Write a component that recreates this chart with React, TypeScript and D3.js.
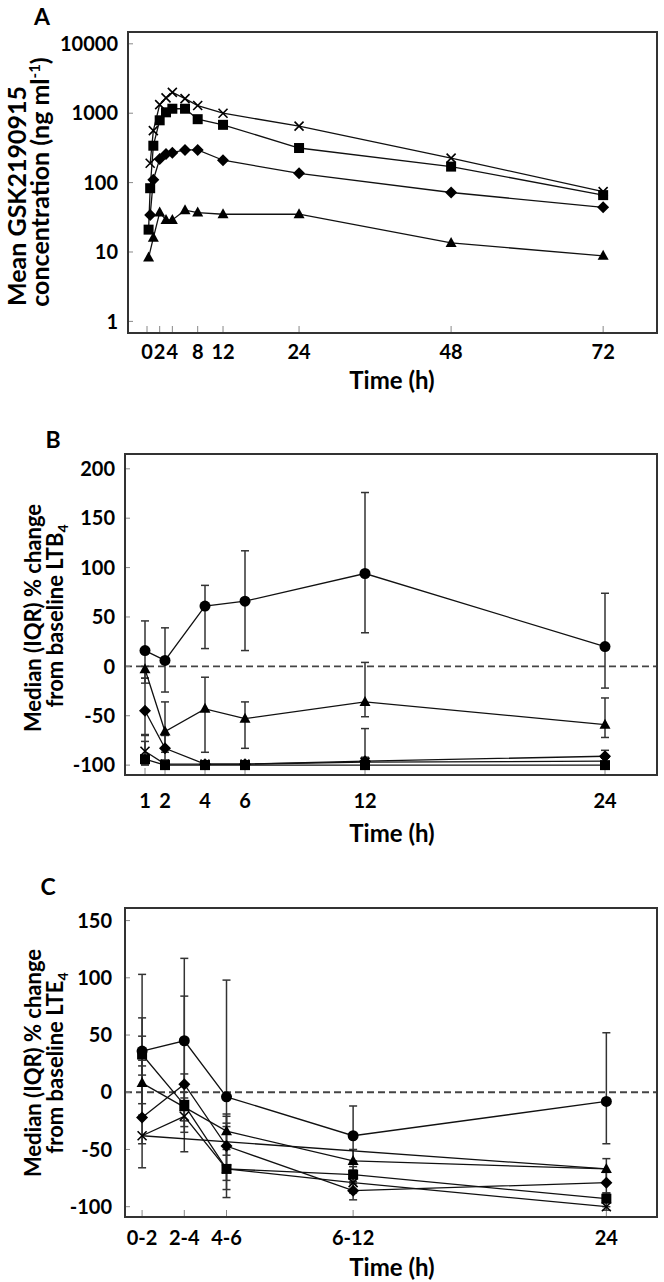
import React from 'react';
import * as d3 from 'd3';

const FONT = 'Lato, "DejaVu Sans", sans-serif';

// ---------- Panel A data ----------
const A_X_TICKS = [0, 2, 4, 8, 12, 24, 48, 72];
const A_Y_TICKS = [1, 10, 100, 1000, 10000];
const A_CROSS_T = [0.5, 1, 2, 3, 4, 6, 8, 12, 24, 48, 72];
const A_CROSS_V = [190, 560, 1330, 1660, 2000, 1620, 1290, 1000, 650, 225, 74];
const A_SQ_T = [0.25, 0.5, 1, 2, 3, 4, 6, 8, 12, 24, 48, 72];
const A_SQ_V = [21, 83, 340, 790, 1030, 1160, 1160, 820, 680, 315, 170, 66];
const A_DIA_T = [0.5, 1, 2, 3, 4, 6, 8, 12, 24, 48, 72];
const A_DIA_V = [34, 110, 218, 258, 270, 296, 296, 210, 136, 72, 44];
const A_TRI_T = [0.25, 1, 2, 3, 4, 6, 8, 12, 24, 48, 72];
const A_TRI_V = [8.3, 16, 37, 29, 29, 40, 37, 35, 35, 13.5, 8.8];

// ---------- Panel B data ----------
const B_X_TICKS = [1, 2, 4, 6, 12, 24];
const B_Y_TICKS = [-100, -50, 0, 50, 100, 150, 200];
const B_T = [1, 2, 4, 6, 12, 24];
const B_CIRCLE = [16, 6, 61, 66, 94, 20];
const B_CIRCLE_LO = [-12, -26, 18, 16, 34, -22];
const B_CIRCLE_HI = [46, 39, 82, 117, 176, 74];
const B_TRI = [-3, -66, -43, -53, -36, -59];
const B_TRI_LO = [-17, -87, -87, -83, -51, -72];
const B_TRI_HI = [0, -36, -11, -36, 4, -32];
const B_DIA = [-45, -83, -99, -99, -96, -91];
const B_DIA_LO = [-70, -95, -100, -100, -100, -97];
const B_DIA_HI = [-12, -70, -96, -96, -63, -85];
const B_SQ = [-94, -100, -100, -100, -100, -100];
const B_SQ_LO = [-100, -100, -100, -100, -100, -100];
const B_SQ_HI = [-76, -98, -98, -98, -98, -98];
const B_CROSS = [-86, -99, -99, -99, -97, -96];
const B_CROSS_LO = [-99, -100, -100, -100, -100, -100];
const B_CROSS_HI = [-69, -95, -97, -97, -92, -93];

// ---------- Panel C data ----------
const C_X_TICKS = [2, 4, 6, 12, 24];
const C_X_LABELS = ['0-2', '2-4', '4-6', '6-12', '24'];
const C_Y_TICKS = [-100, -50, 0, 50, 100, 150];
const C_T = [2, 4, 6, 12, 24];
const C_CIRCLE = [36, 45, -4, -38, -8];
const C_CIRCLE_LO = [-10, 5, -30, -60, -45];
const C_CIRCLE_HI = [103, 117, 98, -12, 52];
const C_SQ = [33, -11, -67, -72, -93];
const C_SQ_LO = [15, -35, -92, -80, -100];
const C_SQ_HI = [65, 16, -50, -65, -88];
const C_TRI = [8, -13, -34, -60, -67];
const C_TRI_LO = [-20, -30, -55, -68, -78];
const C_TRI_HI = [49, 0, -19, -50, -58];
const C_DIA = [-22, 7, -47, -86, -79];
const C_DIA_LO = [-45, -25, -77, -94, -88];
const C_DIA_HI = [23, 84, -27, -78, -70];
const C_CROSS = [-38, -21, -67, -79, -100];
const C_CROSS_LO = [-66, -52, -85, -88, -103];
const C_CROSS_HI = [28, -5, -21, -70, -95];
const C_EXTRA_T = [2, 24];
const C_EXTRA_V = [-38, -67];

type Shape = 'circle' | 'square' | 'triangle' | 'diamond' | 'cross' | 'none';
interface Series {
  t: number[];
  v: number[];
  lo?: number[];
  hi?: number[];
  shape: Shape;
}

function Marker({ shape, x, y }: { shape: Shape; x: number; y: number }) {
  if (shape === 'circle') return <circle cx={x} cy={y} r={5.5} fill="#000" />;
  if (shape === 'square') return <rect x={x - 5} y={y - 5} width={10} height={10} fill="#000" />;
  if (shape === 'triangle')
    return <path d={`M${x},${y - 6}L${x + 5.5},${y + 4}L${x - 5.5},${y + 4}Z`} fill="#000" />;
  if (shape === 'diamond')
    return <path d={`M${x},${y - 6}L${x + 6},${y}L${x},${y + 6}L${x - 6},${y}Z`} fill="#000" />;
  if (shape === 'cross')
    return (
      <path d={`M${x - 4.5},${y - 4.5}L${x + 4.5},${y + 4.5}M${x - 4.5},${y + 4.5}L${x + 4.5},${y - 4.5}`} stroke="#000" strokeWidth={1.6} />
    );
  return null;
}

interface PanelProps {
  left: number; right: number; top: number; bottom: number;
  x: d3.ScaleLinear<number, number>;
  y: (v: number) => number;
  xTicks: number[]; xLabels: string[];
  yTicks: number[]; yLabels: string[];
  yLabelX: number;
  series: Series[];
  zeroLine?: boolean;
  xLabelY: number;
}

function Panel(p: PanelProps) {
  const line = d3.line<[number, number]>().x(d => p.x(d[0])).y(d => p.y(d[1]));
  return (
    <g>
      {p.zeroLine && (
        <line x1={p.left} x2={p.right} y1={p.y(0)} y2={p.y(0)} stroke="#444" strokeWidth={1.8} strokeDasharray="7,4" />
      )}
      {p.yTicks.map((t, i) => (
        <g key={'yt' + i}>
          <line x1={p.left} x2={p.left + 5} y1={p.y(t)} y2={p.y(t)} stroke="#888" strokeWidth={1} />
          <text x={p.yLabelX} y={p.y(t)} dy="0.36em" textAnchor="end" fontFamily={FONT} fontWeight="bold" fontSize={20}>
            {p.yLabels[i]}
          </text>
        </g>
      ))}
      {p.xTicks.map((t, i) => (
        <g key={'xt' + i}>
          <line x1={p.x(t)} x2={p.x(t)} y1={p.bottom} y2={p.bottom - 7} stroke="#888" strokeWidth={1} />
          <text x={p.x(t)} y={p.xLabelY} textAnchor="middle" fontFamily={FONT} fontWeight="bold" fontSize={20}>
            {p.xLabels[i]}
          </text>
        </g>
      ))}
      {p.series.map((s, si) => (
        <g key={'eb' + si}>
          {s.lo && s.hi && s.t.map((t, i) => (
            <g key={i}>
              <line x1={p.x(t)} x2={p.x(t)} y1={p.y(s.lo![i])} y2={p.y(s.hi![i])} stroke="#333" strokeWidth={1.5} />
              <line x1={p.x(t) - 4} x2={p.x(t) + 4} y1={p.y(s.lo![i])} y2={p.y(s.lo![i])} stroke="#333" strokeWidth={1.5} />
              <line x1={p.x(t) - 4} x2={p.x(t) + 4} y1={p.y(s.hi![i])} y2={p.y(s.hi![i])} stroke="#333" strokeWidth={1.5} />
            </g>
          ))}
        </g>
      ))}
      {p.series.map((s, si) => (
        <path key={'ln' + si} d={line(s.t.map((t, i) => [t, s.v[i]] as [number, number])) || ''} fill="none" stroke="#111" strokeWidth={1.3} />
      ))}
      {p.series.map((s, si) => (
        <g key={'mk' + si}>
          {s.t.map((t, i) => <Marker key={i} shape={s.shape} x={p.x(t)} y={p.y(s.v[i])} />)}
        </g>
      ))}
      <rect x={p.left} y={p.top} width={p.right - p.left} height={p.bottom - p.top} fill="none" stroke="#333" strokeWidth={2} />
    </g>
  );
}

export default function App() {
  const axA = d3.scaleLinear().domain([-3, 80.5]).range([128, 657]);
  const ayA = d3.scaleLog().domain([0.68, 14800]).range([333, 32]);
  const axB = d3.scaleLinear().domain([0, 26.6]).range([125, 657]);
  const ayB = d3.scaleLinear().domain([-110, 215]).range([775, 454]);
  const axC = d3.scaleLinear().domain([1.19, 26.4]).range([125, 657]);
  const ayC = d3.scaleLinear().domain([-109, 161]).range([1217, 908]);

  const seriesA: Series[] = [
    { t: A_CROSS_T, v: A_CROSS_V, shape: 'cross' },
    { t: A_SQ_T, v: A_SQ_V, shape: 'square' },
    { t: A_DIA_T, v: A_DIA_V, shape: 'diamond' },
    { t: A_TRI_T, v: A_TRI_V, shape: 'triangle' },
  ];
  const seriesB: Series[] = [
    { t: B_T, v: B_CIRCLE, lo: B_CIRCLE_LO, hi: B_CIRCLE_HI, shape: 'circle' },
    { t: B_T, v: B_TRI, lo: B_TRI_LO, hi: B_TRI_HI, shape: 'triangle' },
    { t: B_T, v: B_DIA, lo: B_DIA_LO, hi: B_DIA_HI, shape: 'diamond' },
    { t: B_T, v: B_CROSS, lo: B_CROSS_LO, hi: B_CROSS_HI, shape: 'cross' },
    { t: B_T, v: B_SQ, lo: B_SQ_LO, hi: B_SQ_HI, shape: 'square' },
  ];
  const seriesC: Series[] = [
    { t: C_EXTRA_T, v: C_EXTRA_V, shape: 'none' },
    { t: C_T, v: C_CIRCLE, lo: C_CIRCLE_LO, hi: C_CIRCLE_HI, shape: 'circle' },
    { t: C_T, v: C_TRI, lo: C_TRI_LO, hi: C_TRI_HI, shape: 'triangle' },
    { t: C_T, v: C_DIA, lo: C_DIA_LO, hi: C_DIA_HI, shape: 'diamond' },
    { t: C_T, v: C_CROSS, lo: C_CROSS_LO, hi: C_CROSS_HI, shape: 'cross' },
    { t: C_T, v: C_SQ, lo: C_SQ_LO, hi: C_SQ_HI, shape: 'square' },
  ];

  const bold = { fontFamily: FONT, fontWeight: 'bold' as const };

  return (
    <svg width={664} height={1282} style={{ position: 'absolute', left: 0, top: 0, background: '#fff' }}>
      <rect x={0} y={0} width={664} height={1282} fill="#fff" />
      {/* Panel A */}
      <text x={42} y={25} textAnchor="middle" fontSize={23} {...bold}>A</text>
      <Panel left={128} right={657} top={32} bottom={333} x={axA} y={v => ayA(v)}
        xTicks={A_X_TICKS} xLabels={A_X_TICKS.map(String)}
        yTicks={A_Y_TICKS} yLabels={A_Y_TICKS.map(String)} yLabelX={118}
        series={seriesA} xLabelY={359} />
      <text x={0} y={0} textAnchor="middle" transform="translate(26,196) rotate(-90)" fontSize={25} {...bold}>Mean GSK2190915</text>
      <text x={0} y={0} textAnchor="middle" transform="translate(49,182) rotate(-90)" fontSize={25} {...bold}>
        concentration (ng ml<tspan dy={-9} fontSize={15}>-1</tspan><tspan dy={9}>)</tspan>
      </text>
      <text x={392} y={389} textAnchor="middle" fontSize={24} {...bold}>Time (h)</text>

      {/* Panel B */}
      <text x={53} y={448} textAnchor="middle" fontSize={23} {...bold}>B</text>
      <Panel left={125} right={657} top={454} bottom={775} x={axB} y={v => ayB(v)}
        xTicks={B_X_TICKS} xLabels={B_X_TICKS.map(String)}
        yTicks={B_Y_TICKS} yLabels={B_Y_TICKS.map(String)} yLabelX={115}
        series={seriesB} zeroLine xLabelY={808} />
      <text x={0} y={0} textAnchor="middle" transform="translate(41,618) rotate(-90)" fontSize={22} {...bold}>Median (IQR) % change</text>
      <text x={0} y={0} textAnchor="middle" transform="translate(63,616) rotate(-90)" fontSize={22} {...bold}>
        from baseline LTB<tspan dy={5} fontSize={14}>4</tspan>
      </text>
      <text x={392} y={842} textAnchor="middle" fontSize={24} {...bold}>Time (h)</text>

      {/* Panel C */}
      <text x={48} y={895} textAnchor="middle" fontSize={23} {...bold}>C</text>
      <Panel left={125} right={657} top={908} bottom={1217} x={axC} y={v => ayC(v)}
        xTicks={C_X_TICKS} xLabels={C_X_LABELS}
        yTicks={C_Y_TICKS} yLabels={C_Y_TICKS.map(String)} yLabelX={112}
        series={seriesC} zeroLine xLabelY={1245} />
      <text x={0} y={0} textAnchor="middle" transform="translate(41,1063) rotate(-90)" fontSize={22} {...bold}>Median (IQR) % change</text>
      <text x={0} y={0} textAnchor="middle" transform="translate(63,1063) rotate(-90)" fontSize={22} {...bold}>
        from baseline LTE<tspan dy={5} fontSize={14}>4</tspan>
      </text>
      <text x={392} y={1276} textAnchor="middle" fontSize={24} {...bold}>Time (h)</text>
    </svg>
  );
}
